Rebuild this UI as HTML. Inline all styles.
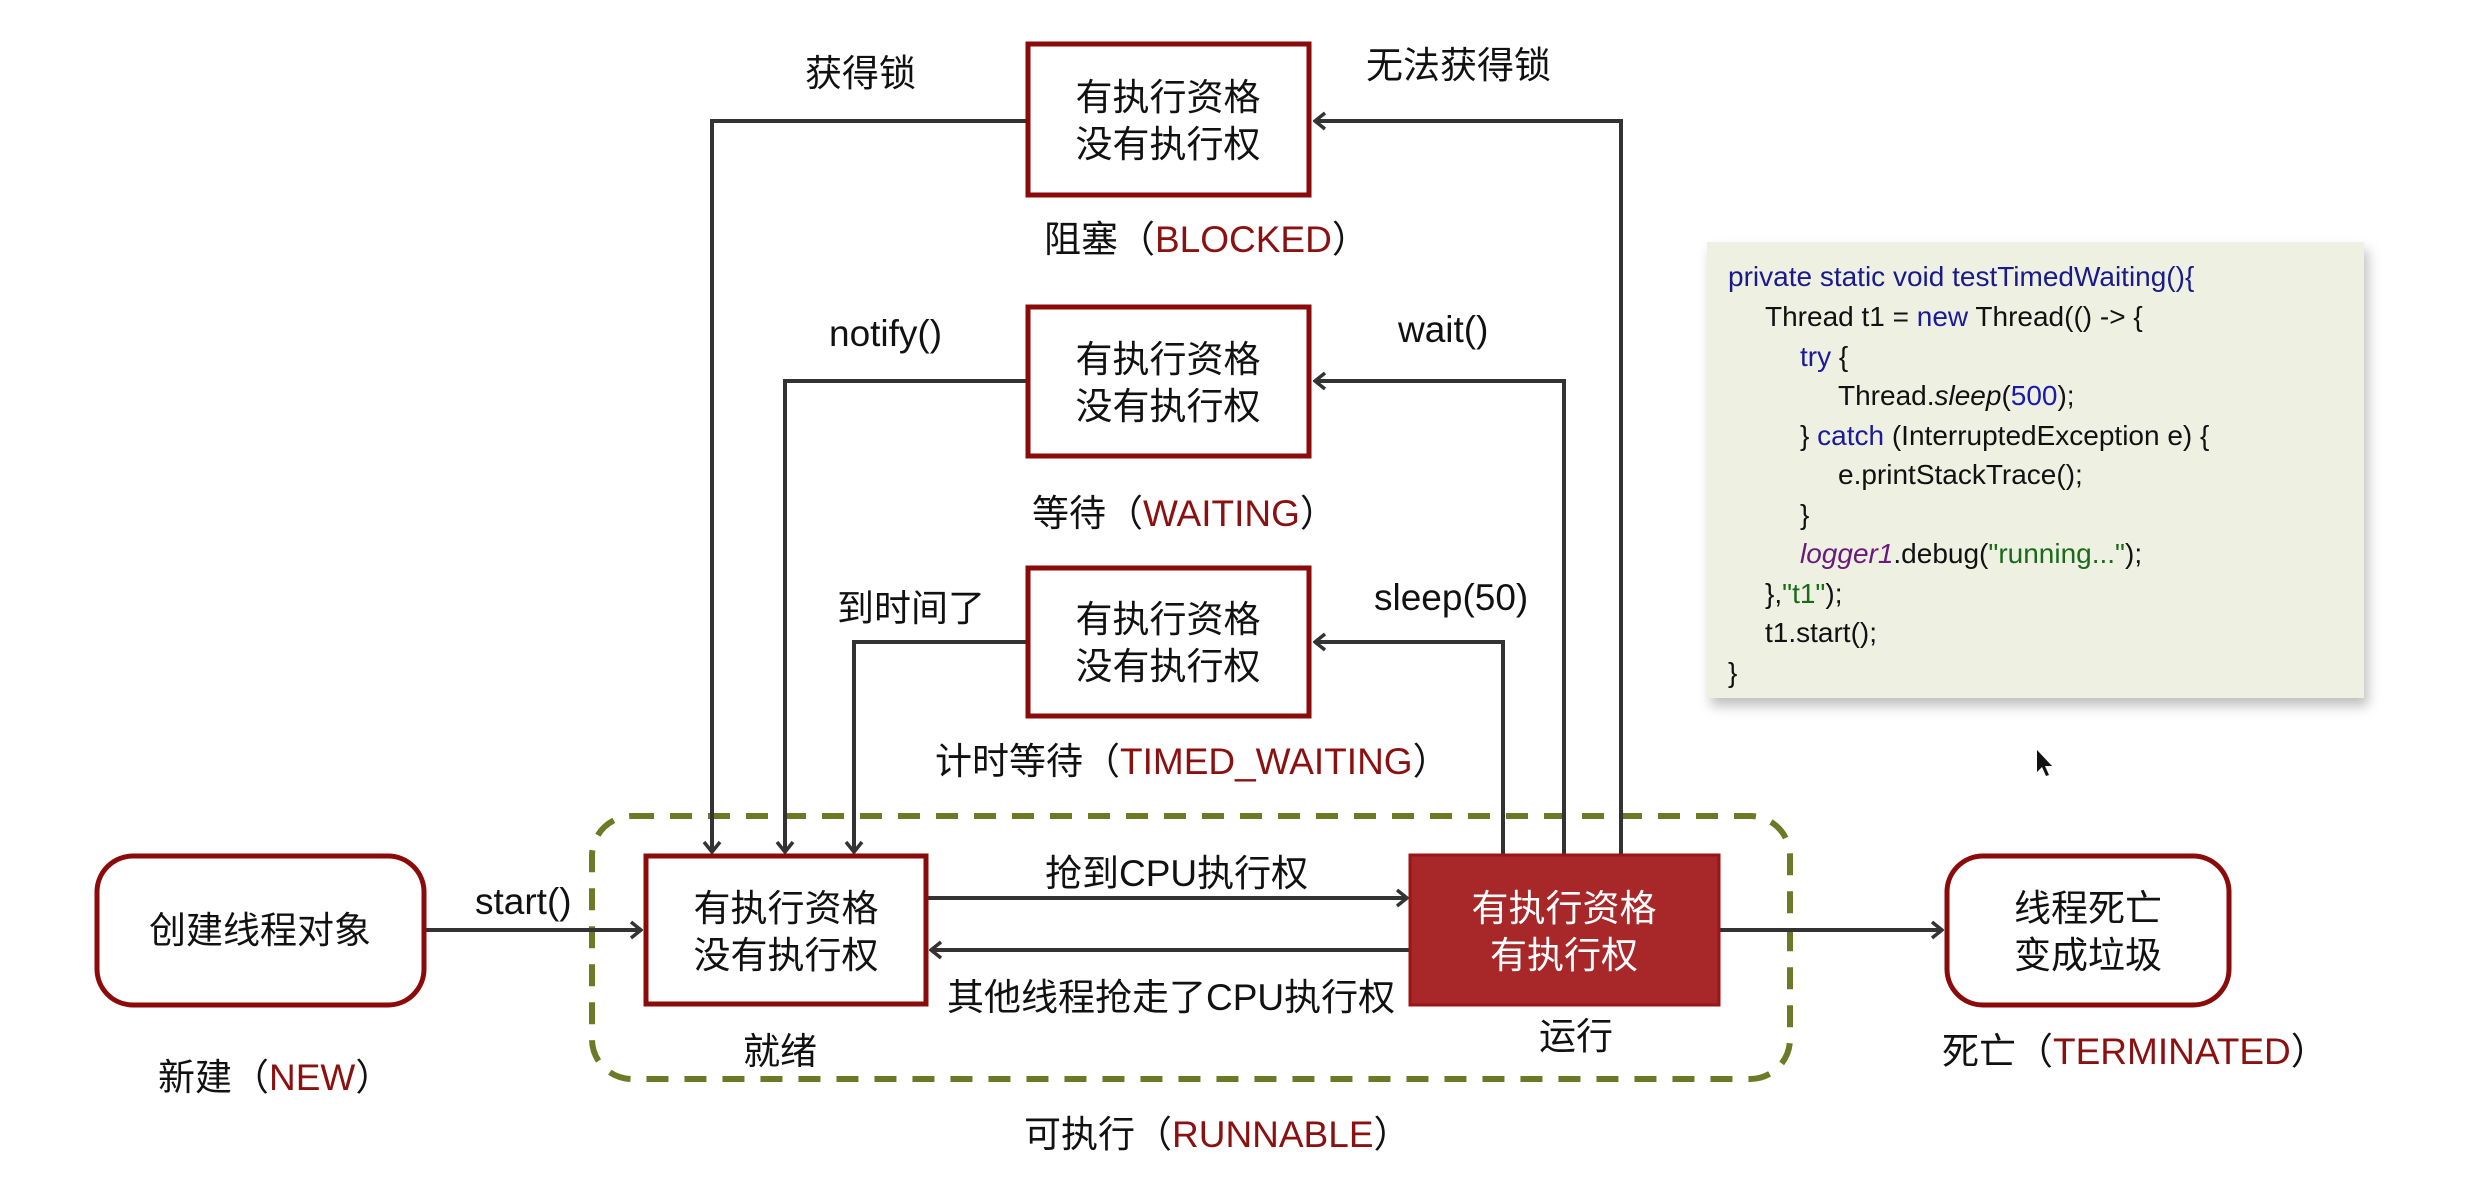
<!DOCTYPE html>
<html><head><meta charset="utf-8"><style>
html,body{margin:0;padding:0;background:#fff;}
svg{display:block;}
text{font-family:"Liberation Sans","Noto Sans CJK SC",sans-serif;fill:#111;}
.c{font-size:37px;}
.r{fill:#8b1010;}
.code{font-size:28px;font-family:"Liberation Sans",sans-serif;}
</style></head><body>
<svg width="2477" height="1187" viewBox="0 0 2477 1187" xmlns="http://www.w3.org/2000/svg">
<defs>
<marker id="a" markerWidth="14" markerHeight="20" refX="12" refY="10" orient="auto" markerUnits="userSpaceOnUse">
<path d="M2,2 L12,10 L2,18" fill="none" stroke="#333" stroke-width="3.5"/>
</marker>
<filter id="sh" x="-5%" y="-5%" width="115%" height="120%"><feDropShadow dx="4" dy="8" stdDeviation="6" flood-color="#000" flood-opacity="0.25"/></filter>
</defs>

<!-- runnable dashed container -->
<rect x="592" y="816" width="1198" height="263" rx="40" fill="none" stroke="#6b7a26" stroke-width="6" stroke-dasharray="22,16"/>

<!-- connectors -->
<g fill="none" stroke="#333" stroke-width="4">
<path d="M1026,121 H712 V852" marker-end="url(#a)"/>
<path d="M1026,381 H785 V852" marker-end="url(#a)"/>
<path d="M1026,642 H854 V852" marker-end="url(#a)"/>
<path d="M1621,855 V121 H1315" marker-end="url(#a)"/>
<path d="M1564,855 V381 H1315" marker-end="url(#a)"/>
<path d="M1503,855 V642 H1315" marker-end="url(#a)"/>
<path d="M425,930 H641" marker-end="url(#a)"/>
<path d="M927,898 H1407" marker-end="url(#a)"/>
<path d="M1410,950 H931" marker-end="url(#a)"/>
<path d="M1719,930 H1942" marker-end="url(#a)"/>
</g>

<!-- state boxes -->
<g fill="#fff" stroke="#8b0a0a" stroke-width="5">
<rect x="1028" y="44" width="281" height="151"/>
<rect x="1028" y="307" width="281" height="149"/>
<rect x="1028" y="568" width="281" height="148"/>
<rect x="646" y="856" width="280" height="148"/>
<rect x="97" y="856" width="327" height="149" rx="36"/>
<rect x="1947" y="856" width="282" height="149" rx="36"/>
</g>
<rect x="1410" y="855" width="309" height="150" fill="#a8282a" stroke="#9a1515" stroke-width="3"/>

<!-- box texts -->
<g class="c" text-anchor="middle">
<text x="1168" y="110">有执行资格</text><text x="1168" y="157">没有执行权</text>
<text x="1168" y="372">有执行资格</text><text x="1168" y="419">没有执行权</text>
<text x="1168" y="632">有执行资格</text><text x="1168" y="679">没有执行权</text>
<text x="786" y="921">有执行资格</text><text x="786" y="968">没有执行权</text>
<text x="260" y="943">创建线程对象</text>
<text x="2088" y="921">线程死亡</text><text x="2088" y="968">变成垃圾</text>
<text x="1564" y="921" style="fill:#fff">有执行资格</text><text x="1564" y="968" style="fill:#fff">有执行权</text>
</g>

<!-- labels -->
<g class="c">
<text x="805" y="86">获得锁</text>
<text x="1366" y="78">无法获得锁</text>
<text x="829" y="346">notify()</text>
<text x="1398" y="342">wait()</text>
<text x="837" y="621">到时间了</text>
<text x="1374" y="610">sleep(50)</text>
<text x="1044" y="252">阻塞（<tspan class="r">BLOCKED</tspan>）</text>
<text x="1032" y="526">等待（<tspan class="r">WAITING</tspan>）</text>
<text x="935" y="774">计时等待（<tspan class="r">TIMED_WAITING</tspan>）</text>
<text x="475" y="914">start()</text>
<text x="1045" y="886">抢到CPU执行权</text>
<text x="947" y="1010">其他线程抢走了CPU执行权</text>
<text x="743" y="1064">就绪</text>
<text x="1539" y="1049">运行</text>
<text x="158" y="1090">新建（<tspan class="r">NEW</tspan>）</text>
<text x="1024" y="1147">可执行（<tspan class="r">RUNNABLE</tspan>）</text>
<text x="1942" y="1064">死亡（<tspan class="r">TERMINATED</tspan>）</text>
</g>

<!-- code box -->
<rect x="1707" y="242" width="657" height="456" fill="#eef0e2" filter="url(#sh)"/>
<g class="code">
<text x="1728" y="286" style="fill:#1a1a8a">private static void testTimedWaiting(){</text>
<text x="1765" y="326">Thread t1 = <tspan style="fill:#1a1a9a">new</tspan> Thread(() -&gt; {</text>
<text x="1800" y="366" style="fill:#1a1a9a">try <tspan style="fill:#111">{</tspan></text>
<text x="1838" y="405">Thread.<tspan font-style="italic">sleep</tspan>(<tspan style="fill:#1a1ab0">500</tspan>);</text>
<text x="1800" y="445">} <tspan style="fill:#1a1a9a">catch</tspan> (InterruptedException e) {</text>
<text x="1838" y="484">e.printStackTrace();</text>
<text x="1800" y="524">}</text>
<text x="1800" y="563"><tspan font-style="italic" style="fill:#6a1a7a">logger1</tspan>.debug(<tspan style="fill:#1a6a1a">"running..."</tspan>);</text>
<text x="1765" y="603">},<tspan style="fill:#1a6a1a">"t1"</tspan>);</text>
<text x="1765" y="642">t1.start();</text>
<text x="1728" y="682">}</text>
</g>
<!-- cursor -->
<path d="M2037,750 L2037,772 L2042,767 L2046,776 L2049,775 L2045,766 L2052,766 Z" fill="#111"/>
</svg>
</body></html>
